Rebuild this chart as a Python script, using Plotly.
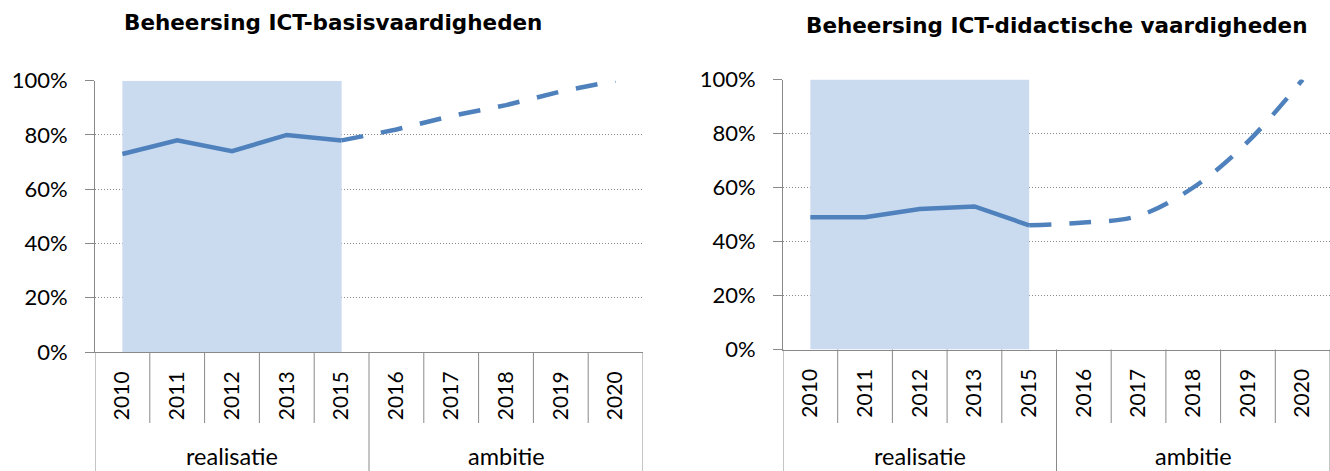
import plotly.graph_objects as go

# ---- data ----
years = ["2010", "2011", "2012", "2013", "2015", "2016", "2017", "2018", "2019", "2020"]
groups = ["realisatie", "ambitie"]
group_size = [5, 5]
real_years = years[:5]
amb_years = years[4:]

basis_real = [0.73, 0.78, 0.74, 0.80, 0.78]
basis_amb = [0.78, 0.82, 0.87, 0.91, 0.96, 1.00]
didac_real = [0.49, 0.49, 0.52, 0.53, 0.46]
didac_amb = [0.46, 0.47, 0.495, 0.60, 0.77, 1.00]
shade = [1.0, 1.0, 1.0, 1.0, 1.0]

titles = ["Beheersing ICT-basisvaardigheden", "Beheersing ICT-didactische vaardigheden"]
ytick_vals = [0, 0.2, 0.4, 0.6, 0.8, 1.0]

# ---- style ----
W, H = 1330, 471
BLUE = "#4F81BD"
SHADE = "#CADBF0"
GRAY = "#898989"
FONT = "Lato"

def py(p):  # pixel-from-top -> paper y
    return (H - p) / H

panels = [
    dict(xd=[95 / W, 643 / W], yd=[py(352), py(80.7)], real=basis_real, amb=basis_amb,
         spline=False, title=titles[0], tx=333 / W, ty=py(23)),
    dict(xd=[783 / W, 1.0], yd=[py(349.5), py(79.5)], real=didac_real, amb=didac_amb,
         spline=True, title=titles[1], tx=1057 / W, ty=py(26)),
]

fig = go.Figure()
shapes = []
annotations = []

for k, p in enumerate(panels):
    xa = "x" if k == 0 else "x2"
    ya = "y" if k == 0 else "y2"
    fig.add_trace(go.Scatter(x=real_years, y=shade, xaxis=xa, yaxis=ya, mode="lines",
                             line=dict(width=0, color=SHADE), fill="tozeroy",
                             fillcolor=SHADE, hoverinfo="skip", showlegend=False))
    fig.add_trace(go.Scatter(x=real_years, y=p["real"], xaxis=xa, yaxis=ya, mode="lines",
                             line=dict(color=BLUE, width=4.5), showlegend=False))
    fig.add_trace(go.Scatter(x=amb_years, y=p["amb"], xaxis=xa, yaxis=ya, mode="lines",
                             line=dict(color=BLUE, width=4.5, dash="22px,18px",
                                       shape="spline" if p["spline"] else "linear"),
                             showlegend=False))

    axkey = "xaxis" if k == 0 else "xaxis2"
    aykey = "yaxis" if k == 0 else "yaxis2"
    fig.update_layout(**{
        axkey: dict(domain=p["xd"], anchor=ya, type="category", categoryorder="array",
                    categoryarray=years, range=[-0.5, len(years) - 0.5], automargin=False,
                    showgrid=False, zeroline=False, showline=True, linecolor=GRAY, linewidth=1,
                    ticks="", tickangle=-90, ticklabelstandoff=10,
                    tickfont=dict(family=FONT, size=21, color="black")),
        aykey: dict(domain=p["yd"], anchor=xa, range=[0, 1], tickvals=ytick_vals,
                    tickformat=".0%", showgrid=True, gridcolor=GRAY, griddash="1px,2px",
                    gridwidth=1, zeroline=False, showline=True, linecolor=GRAY, linewidth=1,
                    automargin=False,
                    ticks="outside", ticklen=9, tickcolor=GRAY, ticklabelstandoff=13,
                    tickfont=dict(family=FONT, size=22, color="black")),
    })

    y_axis = p["yd"][0]
    y_inner_bottom = py(423)
    bounds = [0]
    for g in group_size:
        bounds.append(bounds[-1] + g)
    for i in range(len(years) + 1):
        y0 = 0 if i in bounds else y_inner_bottom
        shapes.append(dict(type="line", xref=xa, yref="paper", x0=i - 0.5, x1=i - 0.5,
                           y0=y0, y1=y_axis, line=dict(color=GRAY, width=1)))
    for gi, gname in enumerate(groups):
        center = (bounds[gi] + bounds[gi + 1] - 1) / 2
        annotations.append(dict(text=gname, xref=xa, yref="paper", x=center, y=0,
                                showarrow=False, xanchor="center", yanchor="bottom",
                                borderpad=0,
                                font=dict(family=FONT, size=23.5, color="black")))
    annotations.append(dict(text="<b>" + p["title"] + "</b>", xref="paper", yref="paper",
                            x=p["tx"], y=p["ty"], showarrow=False, xanchor="center",
                            yanchor="middle",
                            font=dict(family="DejaVu Sans", size=21.5, color="black")))

fig.update_layout(width=W, height=H, margin=dict(l=0, r=0, t=0, b=0, autoexpand=False),
                  template="none",
                  paper_bgcolor="white", plot_bgcolor="white",
                  shapes=shapes, annotations=annotations, showlegend=False)

fig.write_html("out.html", config={"displayModeBar": False},
               post_script="document.body.style.margin='0';document.body.style.overflow='hidden';")
